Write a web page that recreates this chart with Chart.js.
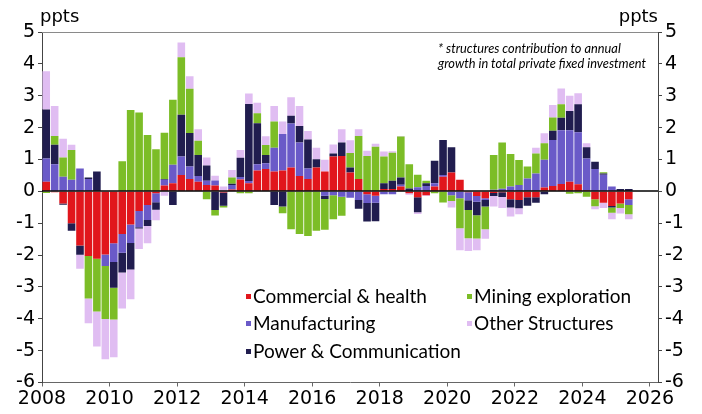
<!DOCTYPE html>
<html>
<head>
<meta charset="utf-8">
<script src="https://cdn.jsdelivr.net/npm/chart.js@4/dist/chart.umd.min.js"></script>
<style>
  html, body { margin: 0; padding: 0; background: #ffffff; }
  #wrap { position: relative; width: 702px; height: 414px; overflow: hidden; }
  #chart { position: absolute; left: 0; top: 0; }
  .unit { position: absolute; top: 5px; font: 18px "DejaVu Sans", sans-serif; color: #000; }
  .note { position: absolute; left: 438px; top: 41px; font: italic 12.8px Lato, sans-serif; line-height: 15px; color: #000; }
  .legend { position: absolute; font: 19px Lato, sans-serif; color: #000; white-space: nowrap; line-height: 20px; }
  .legend i { position: absolute; left: -7px; top: 8px; width: 5px; height: 5px; }
</style>
</head>
<body>
<div id="wrap">
  <canvas id="chart" width="702" height="414"></canvas>
  <div class="unit" style="left:40px">ppts</div>
  <div class="unit" style="right:44px">ppts</div>
  <div class="note">* structures contribution to annual<br>growth in total private fixed investment</div>
  <div id="legend"></div>
</div>
<script>
// Quarterly contributions to annual growth, percentage points, 2008 Q1 – 2025 Q2
const firstYear = 2008;
const quarterCount = 70;

const commercialHealth = [
  0.30, -0.03, -0.38, -1.00, -1.70, -2.03, -2.12, -1.98, -1.63, -1.34,
  -1.04, -0.62, -0.43, -0.06, 0.18, 0.25, 0.51, 0.39, 0.30, 0.20,
  0.18, -0.04, 0.06, 0.37, 0.25, 0.65, 0.70, 0.62, 0.65, 0.75,
  0.48, 0.39, 0.75, 0.62, 1.09, 1.11, 0.59, 0.39, -0.09, -0.14,
  0.07, 0.07, 0.15, -0.06, -0.19, -0.12, 0.15, 0.46, 0.59, 0.36,
  -0.03, -0.15, -0.22, -0.05, -0.03, -0.25, -0.27, -0.19, -0.19, 0.12,
  0.17, 0.23, 0.30, 0.22, 0.03, -0.25, -0.36, -0.46, -0.38, -0.25
];
const manufacturing = [
  0.73, 0.85, 0.46, 0.36, 0.72, 0.39, 0.00, -0.36, -0.59, -0.59,
  -0.58, -0.51, -0.47, -0.28, 0.18, 0.58, 0.58, 0.39, 0.18, 0.13,
  0.16, 0.00, 0.14, 0.08, 0.07, 0.20, 0.18, 0.75, 1.15, 1.38,
  1.05, 0.33, 0.00, -0.14, -0.12, -0.17, -0.20, -0.27, -0.28, -0.22,
  -0.09, -0.09, 0.06, 0.00, 0.13, 0.17, 0.10, 0.05, -0.12, -0.22,
  -0.25, -0.18, -0.05, 0.05, 0.08, 0.15, 0.20, 0.40, 0.56, 0.87,
  1.44, 1.69, 1.62, 1.63, 1.00, 0.70, 0.52, 0.15, 0.00, -0.18
];
const powerCommunication = [
  1.54, 0.61, -0.04, -0.24, -0.29, 0.04, 0.62, 0.00, -0.81, -0.62,
  -0.83, -0.04, -0.19, -0.24, 0.03, -0.43, 1.31, 1.05, 0.66, 0.48,
  -0.59, -0.41, 0.04, 0.60, 2.42, 1.29, 0.26, -0.43, -0.48, 0.24,
  0.52, 0.91, 0.26, -0.10, 0.10, 0.42, 0.16, -0.28, -0.58, -0.58,
  0.18, 0.26, 0.22, 0.09, -0.47, 0.08, 0.71, 1.10, 0.79, 0.00,
  -0.31, -0.42, -0.21, -0.10, -0.15, -0.26, -0.26, -0.26, -0.17, -0.09,
  0.29, 0.39, 0.60, 0.88, 0.35, 0.23, 0.04, -0.05, 0.07, 0.07
];
const miningExploration = [
  -0.05, 0.28, 0.60, 0.94, 0.00, -1.33, -1.65, -1.67, -0.99, 0.94,
  2.55, 2.47, 1.77, 1.32, 1.45, 2.04, 1.81, 1.39, 0.45, -0.25,
  -0.17, -0.06, 0.19, -0.06, -0.06, 0.31, 0.31, 0.82, -0.21, -1.19,
  -1.34, -1.40, -1.24, -0.97, -0.76, -0.60, 0.45, 1.35, 1.11, 1.40,
  0.84, 0.88, 1.29, 0.76, 0.39, 0.08, -0.06, -0.35, -0.18, -0.94,
  -0.88, -0.73, -0.71, 1.09, 1.45, 1.02, 0.78, 0.38, 0.63, 0.52,
  0.42, 0.42, -0.08, -0.06, -0.17, -0.22, 0.04, -0.16, -0.14, -0.29
];
const otherStructures = [
  1.20, 0.94, 0.59, 0.16, -0.44, -0.78, -1.10, -1.26, -1.19, -1.13,
  -0.94, -0.64, -0.54, -0.33, -0.14, 0.00, 0.46, 0.39, 0.36, 0.25,
  0.15, 0.15, 0.24, 0.25, 0.33, 0.33, 0.28, 0.49, 0.39, 0.58,
  0.63, 0.26, 0.36, 0.37, 0.28, 0.42, 0.40, 0.21, 0.16, 0.09,
  0.16, 0.05, 0.02, -0.05, -0.05, -0.03, 0.00, 0.00, -0.21, -0.69,
  -0.40, -0.37, -0.30, -0.33, -0.34, -0.28, -0.19, 0.00, 0.18, 0.31,
  0.39, 0.50, 0.48, 0.35, 0.13, -0.09, -0.16, -0.21, -0.18, -0.16
];

const yearTicks = [2008, 2010, 2012, 2014, 2016, 2018, 2020, 2022, 2024, 2026];
const valueTicks = [-6, -5, -4, -3, -2, -1, 0, 1, 2, 3, 4, 5];

// Bar positions: middle of each quarter on a continuous year axis
const quarterPos = [];
for (let i = 0; i < quarterCount; i++) {
  quarterPos.push(firstYear + Math.floor(i / 4) + ((i % 4) + 0.5) / 4);
}

// Stacking order (bottom up); legend uses a different reading order
const series = [
  { label: 'Commercial & health',   values: commercialHealth,   color: '#e1161c' },
  { label: 'Manufacturing',         values: manufacturing,      color: '#6a5ac8' },
  { label: 'Power & Communication', values: powerCommunication, color: '#211d4f' },
  { label: 'Mining exploration',    values: miningExploration,  color: '#7cbd27' },
  { label: 'Other Structures',      values: otherStructures,    color: '#e0bdf2' }
];
const legendOrder = [
  ['Commercial & health', 'Mining exploration'],
  ['Manufacturing', 'Other Structures'],
  ['Power & Communication']
];

const datasets = series.map(s => ({
  label: s.label,
  data: s.values.map((v, i) => ({ x: quarterPos[i], y: v })),
  backgroundColor: s.color,
  borderWidth: 0,
  categoryPercentage: 1.0,
  barPercentage: 0.9,
  stack: 'all'
}));

const tickFont = { family: '"DejaVu Sans", sans-serif', size: 19 };

const framePlugin = {
  id: 'frame',
  afterDatasetsDraw(chart) {
    const { ctx, chartArea: a, scales } = chart;
    ctx.save();
    // top edge of the plot box
    ctx.strokeStyle = '#8a8a8a';
    ctx.lineWidth = 1;
    ctx.beginPath();
    ctx.moveTo(a.left, a.top + 0.5);
    ctx.lineTo(a.right, a.top + 0.5);
    ctx.stroke();
    // zero line
    const y0 = Math.round(scales.y.getPixelForValue(0));
    ctx.strokeStyle = '#000000';
    ctx.lineWidth = 1.5;
    ctx.beginPath();
    ctx.moveTo(a.left, y0);
    ctx.lineTo(a.right, y0);
    ctx.stroke();
    ctx.restore();
  }
};

const yAxis = (position, width, pad) => ({
  type: 'linear',
  position,
  stacked: position === 'left',
  min: -6,
  max: 5,
  afterBuildTicks(scale) { scale.ticks = valueTicks.map(v => ({ value: v })); },
  afterFit(scale) { scale.width = width; },
  ticks: { color: '#000', font: tickFont, padding: pad },
  grid: { drawOnChartArea: false, drawTicks: true, tickLength: 4, color: '#444' },
  border: { display: true, color: '#444', width: 1 }
});

new Chart(document.getElementById('chart'), {
  type: 'bar',
  data: { datasets },
  options: {
    responsive: false,
    animation: false,
    layout: { padding: { top: 32, left: 0, right: 0, bottom: 0 } },
    plugins: { legend: { display: false }, tooltip: { enabled: false } },
    scales: {
      x: {
        type: 'linear',
        stacked: true,
        offset: false,
        min: 2008,
        max: 2026.24,
        afterBuildTicks(scale) { scale.ticks = yearTicks.map(v => ({ value: v })); },
        afterFit(scale) { scale.height = 31.5; },
        ticks: { color: '#000', font: tickFont, padding: 1, maxRotation: 0, autoSkip: false,
                 callback: v => String(v) },
        grid: { offset: false, drawOnChartArea: false, drawTicks: true, tickLength: 4, color: '#666' },
        border: { display: true, color: '#666', width: 1 }
      },
      y: yAxis('left', 42, 3),
      y2: yAxis('right', 44, 3)
    }
  },
  plugins: [framePlugin]
});

// Legend in two columns inside the plot
const colorOf = Object.fromEntries(series.map(s => [s.label, s.color]));
const legend = document.getElementById('legend');
const colX = [253, 474];
const rowY = [285.5, 313, 341];
legendOrder.forEach((row, r) => {
  row.forEach((name, c) => {
    const el = document.createElement('div');
    el.className = 'legend';
    el.style.left = colX[c] + 'px';
    el.style.top = rowY[r] + 'px';
    el.innerHTML = '<i style="background:' + colorOf[name] + '"></i>';
    el.appendChild(document.createTextNode(name));
    legend.appendChild(el);
  });
});
</script>
</body>
</html>
